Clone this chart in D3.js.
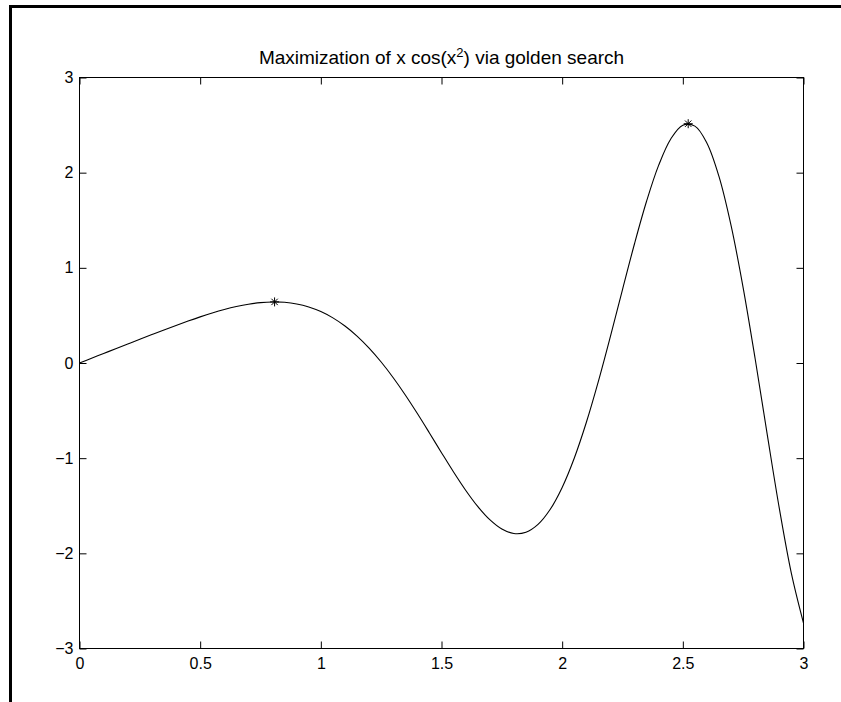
<!DOCTYPE html>
<html>
<head>
<meta charset="utf-8">
<script src="https://cdn.jsdelivr.net/npm/d3@7"></script>
<style>
  html, body { margin: 0; padding: 0; background: #fff; }
  svg { display: block; }
  text { font-family: "Liberation Sans", Arial, Helvetica, sans-serif; fill: #000; }
</style>
</head>
<body>
<svg id="chart" width="841" height="702"></svg>
<script>
// Sampled curve f(x) = x·cos(x²) on [0, 3]
const xs = [0, 0.05, 0.10, 0.15, 0.20, 0.25, 0.30, 0.35, 0.40, 0.45,
            0.50, 0.55, 0.60, 0.65, 0.70, 0.75, 0.80, 0.85, 0.90, 0.95,
            1.00, 1.05, 1.10, 1.15, 1.20, 1.25, 1.30, 1.35, 1.40, 1.45,
            1.50, 1.55, 1.60, 1.65, 1.70, 1.75, 1.80, 1.85, 1.90, 1.95,
            2.00, 2.05, 2.10, 2.15, 2.20, 2.25, 2.30, 2.35, 2.40, 2.45,
            2.50, 2.55, 2.60, 2.65, 2.70, 2.75, 2.80, 2.85, 2.90, 2.95, 3.00];
const ys = [0, 0.05000, 0.10000, 0.14996, 0.19984, 0.24951, 0.29879, 0.34738, 0.39489, 0.44080,
            0.48446, 0.52503, 0.56154, 0.59284, 0.61763, 0.63444, 0.64168, 0.63759, 0.62055, 0.58871,
            0.54030, 0.47394, 0.38832, 0.28262, 0.15651, 0.01037, -0.15460, -0.33622, -0.53123, -0.73515,
            -0.94226, -1.14558, -1.33694, -1.50721, -1.64648, -1.74453, -1.79129, -1.77749, -1.69535, -1.53940,
            -1.30729, -1.00057, -0.62538, -0.19300, 0.27998, 0.77175, 1.25586, 1.70225, 2.07896, 2.35412,
            2.49862, 2.48892, 2.31000, 1.95816, 1.44330, 0.79027, 0.03915, -0.75612, -1.53065, -2.21339, -2.73339];

// Maxima located by golden-section search
const maxX = [0.8083, 2.5222];
const maxY = [0.6419, 2.5144];

// Axis ticks
const xTicks = [0, 0.5, 1, 1.5, 2, 2.5, 3];
const xTickLabels = ["0", "0.5", "1", "1.5", "2", "2.5", "3"];
const yTicks = [-3, -2, -1, 0, 1, 2, 3];
const yTickLabels = ["\u22123", "\u22122", "\u22121", "0", "1", "2", "3"];

const titleText = "Maximization of x cos(x";
const titleSup = "2";
const titleTail = ") via golden search";

const svg = d3.select("#chart");

// Figure frame (top and left edges)
svg.append("path")
  .attr("d", "M10.5,702 L10.5,6.5 L841,6.5")
  .attr("fill", "none")
  .attr("stroke", "#000")
  .attr("stroke-width", 3);

const L = 79.5, R = 803.5, T = 77.5, B = 648.5;
const x = d3.scaleLinear().domain([0, 3]).range([L, R]);
const y = d3.scaleLinear().domain([-3, 3]).range([B, T]);
const tickLen = 7;

// Axes box
svg.append("rect")
  .attr("x", L).attr("y", T)
  .attr("width", R - L).attr("height", B - T)
  .attr("fill", "none").attr("stroke", "#000").attr("stroke-width", 1);

// Bottom axis with labels, inward ticks
const gx = svg.append("g").attr("transform", `translate(0,${B})`)
  .call(d3.axisBottom(x).tickValues(xTicks)
    .tickFormat((d, i) => xTickLabels[i])
    .tickSizeInner(-tickLen).tickSizeOuter(0).tickPadding(9));
// Top axis ticks
const gxt = svg.append("g").attr("transform", `translate(0,${T})`)
  .call(d3.axisTop(x).tickValues(xTicks).tickFormat("")
    .tickSizeInner(-tickLen).tickSizeOuter(0));
// Left axis with labels
const gy = svg.append("g").attr("transform", `translate(${L},0)`)
  .call(d3.axisLeft(y).tickValues(yTicks)
    .tickFormat((d, i) => yTickLabels[yTicks.indexOf(d)])
    .tickSizeInner(-tickLen).tickSizeOuter(0).tickPadding(6));
// Right axis ticks
const gyr = svg.append("g").attr("transform", `translate(${R},0)`)
  .call(d3.axisRight(y).tickValues(yTicks).tickFormat("")
    .tickSizeInner(-tickLen).tickSizeOuter(0));

[gx, gxt, gy, gyr].forEach(g => {
  g.select(".domain").remove();
  g.selectAll(".tick line").attr("stroke", "#000");
  g.selectAll("text").attr("font-size", 16)
    .attr("font-family", "'Liberation Sans', Arial, sans-serif").attr("fill", "#000");
});
gx.selectAll("text").attr("dy", "0.71em");

// Curve
const pts = xs.map((v, i) => [v, ys[i]]);
const line = d3.line()
  .x(d => x(d[0]))
  .y(d => y(d[1]))
  .curve(d3.curveCatmullRom.alpha(0.5));
svg.append("path")
  .datum(pts)
  .attr("d", line)
  .attr("fill", "none")
  .attr("stroke", "#000")
  .attr("stroke-width", 1.1);

// Star markers at the maxima
const r = 4.5;
maxX.forEach((mx, i) => {
  const cx = x(mx), cy = y(maxY[i]);
  const g = svg.append("g").attr("transform", `translate(${cx},${cy})`)
    .attr("stroke", "#000").attr("stroke-width", 1);
  [0, 45, 90, 135].forEach(a => {
    const rad = a * Math.PI / 180;
    g.append("line")
      .attr("x1", -r * Math.cos(rad)).attr("y1", -r * Math.sin(rad))
      .attr("x2", r * Math.cos(rad)).attr("y2", r * Math.sin(rad));
  });
});

// Title
const title = svg.append("text")
  .attr("x", (L + R) / 2).attr("y", 64)
  .attr("text-anchor", "middle")
  .attr("font-size", 19);
title.append("tspan").text(titleText);
title.append("tspan").attr("dy", -7).attr("font-size", 13).text(titleSup);
title.append("tspan").attr("dy", 7).text(titleTail);
</script>
</body>
</html>
